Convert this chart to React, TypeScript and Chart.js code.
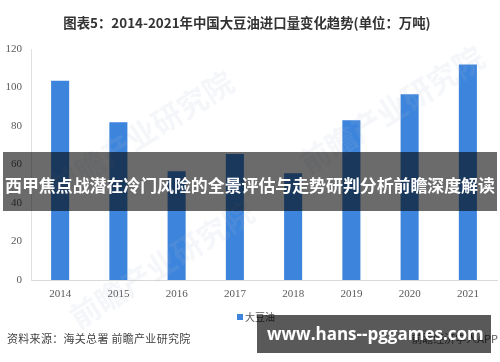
import React, { useEffect, useRef } from "react";
import { Chart, registerables } from "chart.js";

Chart.register(...registerables);

const years = ["2014", "2015", "2016", "2017", "2018", "2019", "2020", "2021"];
const soyOilImports = [103.5, 82, 56.5, 65.5, 55.5, 83, 96.5, 112];
const seriesName = "大豆油";
const yTicks = { min: 0, max: 120, step: 20 };
const titleText = "图表5：2014-2021年中国大豆油进口量变化趋势(单位：万吨)";
const sourceText = "资料来源：海关总署 前瞻产业研究院";
const bannerText = "西甲焦点战潜在冷门风险的全景评估与走势研判分析前瞻深度解读";
const urlText = "www.hans--pggames.com";
const appText = "前瞻经济学人APP";
const watermarkText = "前瞻产业研究院";

const BAR_COLOR = "#3d85dc";

export default function App() {
  const canvasRef = useRef<HTMLCanvasElement | null>(null);

  useEffect(() => {
    document.body.style.margin = "0";
    const ctx = canvasRef.current!;
    const chart = new Chart(ctx, {
      type: "bar",
      data: {
        labels: years,
        datasets: [
          {
            label: seriesName,
            data: soyOilImports,
            backgroundColor: BAR_COLOR,
            categoryPercentage: 1,
            barPercentage: 0.31,
          },
        ],
      },
      options: {
        animation: false,
        responsive: false,
        maintainAspectRatio: false,
        layout: { padding: { top: 49, right: 3, left: 0, bottom: 0 } },
        plugins: {
          legend: { display: false },
          tooltip: { enabled: false },
          title: { display: false },
        },
        scales: {
          x: {
            grid: { display: false, drawTicks: false },
            border: { display: true, color: "#d9d9d9" },
            ticks: {
              color: "#595959",
              padding: 8,
              font: { family: "Liberation Serif", size: 11 },
            },
            afterFit: (s: any) => {
              s.height = 82;
            },
          },
          y: {
            min: yTicks.min,
            max: yTicks.max,
            grid: { display: false, drawTicks: false },
            border: { display: true, color: "#e0e0e0" },
            ticks: {
              stepSize: yTicks.step,
              color: "#595959",
              padding: 9,
              font: { family: "Liberation Serif", size: 11 },
            },
            afterFit: (s: any) => {
              s.width = 31;
            },
          },
        },
      },
    });
    return () => chart.destroy();
  }, []);

  const wm = (left: number, top: number, size: number) => (
    <div
      style={{
        position: "absolute",
        left,
        top,
        fontFamily: "Noto Sans CJK SC",
        fontWeight: 700,
        fontSize: size,
        color: "rgba(170,185,205,0.13)",
        transform: "rotate(-32deg)",
        transformOrigin: "left top",
        whiteSpace: "nowrap",
        pointerEvents: "none",
      }}
    >
      {watermarkText}
    </div>
  );

  return (
    <div
      style={{
        position: "absolute",
        left: 0,
        top: 0,
        width: 500,
        height: 362,
        background: "#fff",
        overflow: "hidden",
      }}
    >
      <canvas ref={canvasRef} width={500} height={362} style={{ position: "absolute", left: 0, top: 0 }} />
      {wm(40, 170, 30)}
      {wm(290, 145, 30)}
      {wm(60, 300, 30)}
      <div
        style={{
          position: "absolute",
          left: 0,
          top: 13,
          width: 494,
          textAlign: "center",
          fontFamily: "Noto Sans CJK SC",
          fontWeight: 700,
          fontSize: 13.4,
          color: "#333",
          lineHeight: "18px",
          whiteSpace: "nowrap",
        }}
      >
        {titleText}
      </div>
      <div
        style={{
          position: "absolute",
          left: 237,
          top: 314,
          width: 6,
          height: 6,
          background: BAR_COLOR,
        }}
      />
      <div
        style={{
          position: "absolute",
          left: 245,
          top: 309,
          fontFamily: "Noto Sans CJK SC",
          fontSize: 10,
          color: "#595959",
          lineHeight: "16px",
        }}
      >
        {seriesName}
      </div>
      <div
        style={{
          position: "absolute",
          left: 7,
          top: 330,
          fontFamily: "Noto Sans CJK SC",
          fontSize: 11,
          letterSpacing: "0.3px",
          color: "#444",
          lineHeight: "16px",
        }}
      >
        {sourceText}
      </div>
      <div
        style={{
          position: "absolute",
          right: 2,
          top: 330,
          fontFamily: "Noto Sans CJK SC",
          fontSize: 11,
          color: "#555",
          lineHeight: "16px",
        }}
      >
        {appText}
      </div>
      <div
        style={{
          position: "absolute",
          left: 3,
          top: 152,
          width: 494,
          height: 59,
          background: "rgba(0,0,0,0.58)",
          color: "#fff",
          fontFamily: "Noto Sans CJK SC",
          fontWeight: 700,
          fontSize: 16.9,
          lineHeight: "59px",
          textAlign: "center",
          whiteSpace: "nowrap",
          paddingTop: 3,
          boxSizing: "border-box",
        }}
      >
        {bannerText}
      </div>
      <div
        style={{
          position: "absolute",
          left: 257,
          top: 315,
          width: 234,
          height: 38,
          background: "rgba(0,0,0,0.65)",
          color: "#fff",
          fontFamily: "Open Sans",
          fontWeight: 700,
          fontSize: 17,
          lineHeight: "38px",
          paddingLeft: 10,
          boxSizing: "border-box",
          whiteSpace: "nowrap",
        }}
      >
        {urlText}
      </div>
    </div>
  );
}
